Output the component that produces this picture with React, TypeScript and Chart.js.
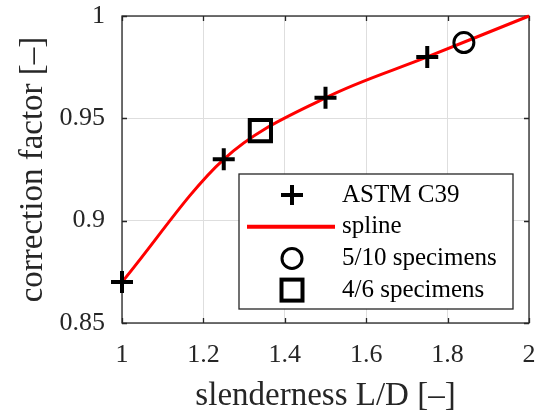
import { useEffect, useRef } from "react";
import { Chart, registerables } from "chart.js";

Chart.register(...registerables);

// ASTM C39 strength correction factors
const astmSlenderness = [1, 1.25, 1.5, 1.75];
const astmFactor = [0.87, 0.93, 0.96, 0.98];

// spline knots through the ASTM values up to L/D = 2
const splineSlenderness = [1, 1.25, 1.5, 1.75, 2];
const splineFactor = [0.87, 0.93, 0.96, 0.98, 1];

// specimen series
const fiveTenSlenderness = [1.84];
const fiveTenFactor = [0.987];
const fourSixSlenderness = [1.34];
const fourSixFactor = [0.944];

const xTicks = [1, 1.2, 1.4, 1.6, 1.8, 2];
const yTicks = [0.85, 0.9, 0.95, 1];
const legendLabels = ["ASTM C39", "spline", "5/10 specimens", "4/6 specimens"];

const FONT = '"Liberation Serif", "Times New Roman", serif';
const AXIS = "#262626";
const GRID = "#dedede";
const RED = "#ff0000";

const pairs = (xs: number[], ys: number[]) => xs.map((x, i) => ({ x, y: ys[i] }));
const fmt = (v: number) => String(Number(Number(v).toFixed(2)));

const noPadding = (s: any) => {
  s.paddingLeft = 0;
  s.paddingRight = 0;
  s.paddingTop = 0;
  s.paddingBottom = 0;
};

// box around the axes with inward tick marks on all four sides
const framePlugin = {
  id: "frame",
  beforeDatasetsDraw(chart: any) {
    const { ctx, chartArea: a, scales } = chart;
    const len = 5;
    ctx.save();
    ctx.strokeStyle = AXIS;
    ctx.lineWidth = 1.3;
    ctx.beginPath();
    for (const t of scales.x.ticks) {
      const px = Math.round(scales.x.getPixelForValue(t.value)) + 0.5;
      ctx.moveTo(px, a.bottom);
      ctx.lineTo(px, a.bottom - len);
      ctx.moveTo(px, a.top);
      ctx.lineTo(px, a.top + len);
    }
    for (const t of scales.y.ticks) {
      const py = Math.round(scales.y.getPixelForValue(t.value)) + 0.5;
      ctx.moveTo(a.left, py);
      ctx.lineTo(a.left + len, py);
      ctx.moveTo(a.right, py);
      ctx.lineTo(a.right - len, py);
    }
    ctx.stroke();
    ctx.strokeRect(a.left, a.top, a.right - a.left, a.bottom - a.top);
    ctx.restore();
  },
};

// boxed legend inside the lower right of the axes
const legendPlugin = {
  id: "boxLegend",
  afterDraw(chart: any) {
    const { ctx, chartArea: a } = chart;
    const bx = a.left + 117;
    const by = a.top + 158;
    const bw = 274;
    const bh = 135;
    const mx = bx + 53;
    const tx = bx + 103;
    const rowY = (i: number) => by + 21 + i * 31.7;
    ctx.save();
    ctx.fillStyle = "#ffffff";
    ctx.fillRect(bx, by, bw, bh);
    ctx.strokeStyle = AXIS;
    ctx.lineWidth = 1.3;
    ctx.strokeRect(bx, by, bw, bh);

    ctx.strokeStyle = "#000000";
    // plus
    ctx.lineWidth = 4;
    ctx.beginPath();
    ctx.moveTo(mx - 11, rowY(0));
    ctx.lineTo(mx + 11, rowY(0));
    ctx.moveTo(mx, rowY(0) - 10);
    ctx.lineTo(mx, rowY(0) + 10);
    ctx.stroke();
    // spline line
    ctx.strokeStyle = RED;
    ctx.lineWidth = 4;
    ctx.beginPath();
    ctx.moveTo(bx + 8, rowY(1));
    ctx.lineTo(bx + 96, rowY(1));
    ctx.stroke();
    // circle
    ctx.strokeStyle = "#000000";
    ctx.lineWidth = 3;
    ctx.beginPath();
    ctx.arc(mx, rowY(2), 10, 0, Math.PI * 2);
    ctx.stroke();
    // square
    ctx.lineWidth = 4;
    ctx.strokeRect(mx - 10.5, rowY(3) - 10.5, 21, 21);

    ctx.fillStyle = "#000000";
    ctx.font = `25px ${FONT}`;
    ctx.textBaseline = "middle";
    ctx.textAlign = "left";
    legendLabels.forEach((t, i) => ctx.fillText(t, tx, rowY(i)));
    ctx.restore();
  },
};

export default function App() {
  const ref = useRef<HTMLCanvasElement | null>(null);

  useEffect(() => {
    if (!ref.current) return;
    const chart = new Chart(ref.current, {
      type: "line",
      data: {
        datasets: [
          {
            label: legendLabels[0],
            data: pairs(astmSlenderness, astmFactor),
            showLine: false,
            pointStyle: "cross",
            pointRadius: 11,
            pointBorderWidth: 4,
            borderColor: "#000000",
            backgroundColor: "#000000",
            order: 0,
            clip: false,
          },
          {
            label: legendLabels[1],
            data: pairs(splineSlenderness, splineFactor),
            borderColor: RED,
            borderWidth: 3,
            pointRadius: 0,
            cubicInterpolationMode: "monotone",
            fill: false,
            order: 3,
            clip: false,
          },
          {
            label: legendLabels[2],
            data: pairs(fiveTenSlenderness, fiveTenFactor),
            showLine: false,
            pointStyle: "circle",
            pointRadius: 10,
            pointBorderWidth: 3,
            borderColor: "#000000",
            backgroundColor: "rgba(0,0,0,0)",
            order: 1,
            clip: false,
          },
          {
            label: legendLabels[3],
            data: pairs(fourSixSlenderness, fourSixFactor),
            showLine: false,
            pointStyle: "rect",
            pointRadius: 15,
            pointBorderWidth: 4,
            borderColor: "#000000",
            backgroundColor: "rgba(0,0,0,0)",
            order: 2,
            clip: false,
          },
        ],
      },
      options: {
        animation: false,
        responsive: false,
        devicePixelRatio: 1,
        layout: { autoPadding: false, padding: { left: 0, top: 16, right: 6, bottom: 0 } },
        plugins: { legend: { display: false }, tooltip: { enabled: false } },
        scales: {
          x: {
            type: "linear",
            min: 1,
            max: 2,
            afterBuildTicks: (s: any) => {
              s.ticks = xTicks.map((value) => ({ value }));
            },
            afterFit: (s: any) => {
              s.height = 87;
              noPadding(s);
            },
            grid: { color: GRID, lineWidth: 1, drawTicks: false },
            border: { display: false },
            ticks: {
              padding: 17,
              color: AXIS,
              maxRotation: 0,
              autoSkip: false,
              font: { family: FONT, size: 26 },
              callback: (v: any) => fmt(v),
            },
            title: {
              display: true,
              text: "slenderness L/D [–]",
              color: AXIS,
              font: { family: FONT, size: 33 },
              padding: { top: 0, bottom: -6 },
            },
          },
          y: {
            type: "linear",
            min: 0.85,
            max: 1,
            afterBuildTicks: (s: any) => {
              s.ticks = yTicks.map((value) => ({ value }));
            },
            afterFit: (s: any) => {
              s.width = 122;
              noPadding(s);
            },
            grid: { color: GRID, lineWidth: 1, drawTicks: false },
            border: { display: false },
            ticks: {
              padding: 17,
              color: AXIS,
              autoSkip: false,
              font: { family: FONT, size: 26 },
              callback: (v: any) => fmt(v),
            },
            title: {
              display: true,
              text: "correction factor [–]",
              color: AXIS,
              font: { family: FONT, size: 33 },
              padding: { top: 14, bottom: 0 },
            },
          },
        },
      },
      plugins: [framePlugin, legendPlugin],
    } as any);
    return () => chart.destroy();
  }, []);

  return (
    <div style={{ position: "fixed", left: 0, top: 0, width: 535, height: 410, background: "#ffffff" }}>
      <canvas ref={ref} width={535} height={410} />
    </div>
  );
}
